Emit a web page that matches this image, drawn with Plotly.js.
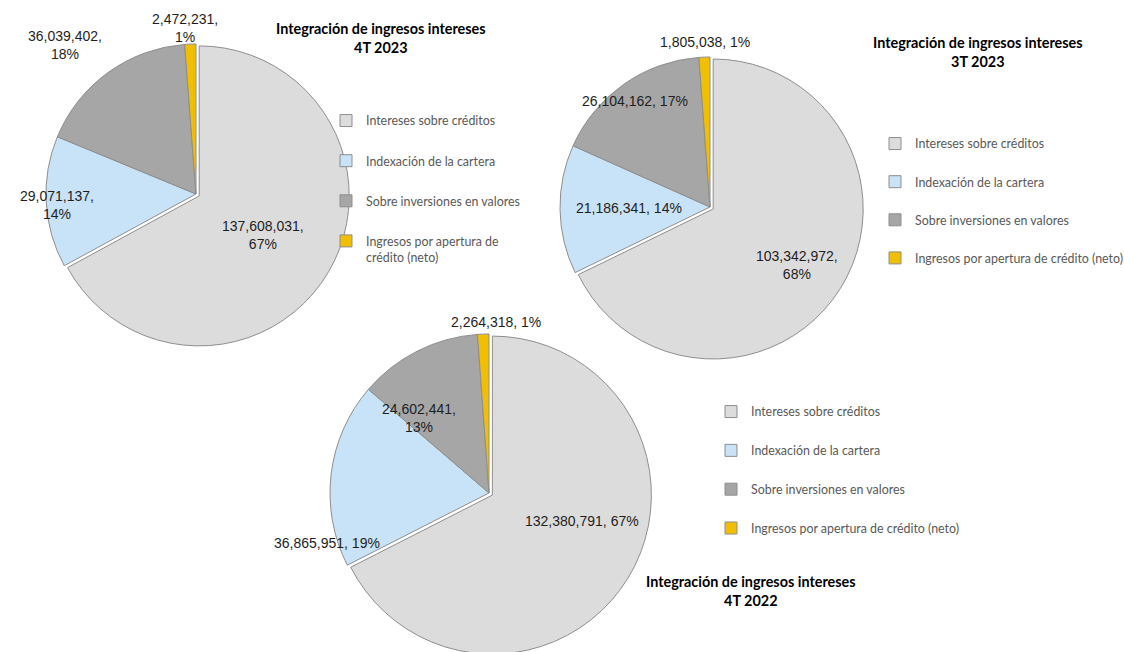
<!DOCTYPE html>
<html>
<head>
<meta charset="utf-8">
<script src="https://cdn.plot.ly/plotly-3.0.1.min.js"></script>
<style>
html,body{margin:0;padding:0;background:#fff;overflow:hidden}
#wrap{width:1124px;height:652px;overflow:hidden}
#chart{width:1160px;height:672px}
</style>
</head>
<body>
<div id="wrap"><div id="chart"></div></div>
<script>
// ---------- DATA ----------
const categories = ['Intereses sobre créditos', 'Indexación de la cartera', 'Sobre inversiones en valores', 'Ingresos por apertura de crédito (neto)'];
const categoriesWrapped = ['Intereses sobre créditos', 'Indexación de la cartera', 'Sobre inversiones en valores', 'Ingresos por apertura de<br>crédito (neto)'];
const values4T2023 = [137608031, 29071137, 36039402, 2472231];
const pct4T2023 = [67, 14, 18, 1];
const values3T2023 = [103342972, 21186341, 26104162, 1805038];
const pct3T2023 = [68, 14, 17, 1];
const values4T2022 = [132380791, 36865951, 24602441, 2264318];
const pct4T2022 = [67, 19, 13, 1];
const titleMain = 'Integración de ingresos intereses';
const periods = ['4T 2023', '3T 2023', '4T 2022'];

// ---------- STYLE / LAYOUT ----------
// the figure is a little larger than the visible 1124x652 window so that
// the right-hand legend and the bottom pie are not squeezed by auto-margins
const W = 1160, H = 672;
const sliceColors = ['#dcdcdc', '#c8e2f7', '#a6a6a6', '#f2bf00'];
const PULL = 0.025;
const fx = x => x / W;
const fy = y => 1 - y / H;
function dom(cx, cy, r) {
  const h = r * (1 + PULL);
  return {x: [fx(cx - h), fx(cx + h)], y: [fy(cy + h), fy(cy - h)]};
}
const labelFont = {family: 'Liberation Sans, Arial, sans-serif', size: 14, color: '#1e1e1e'};
const titleFont = {family: 'Lato, Roboto, sans-serif', size: 14.4, color: '#000', weight: 700};
const legendFont = {family: 'Lato, Roboto, sans-serif', size: 12.4, color: '#595959'};

const fmt = v => v.toLocaleString('en-US');
// invisible suffix keeps each pie's legend entries distinct
const uniq = (labels, k) => labels.map(l => l + '\u200b'.repeat(k));

function pieTrace(labels, values, domain, legendId) {
  return {
    type: 'pie', labels: labels, values: values, sort: false, direction: 'clockwise', rotation: 0,
    domain: domain, pull: [PULL, 0, 0, 0], textinfo: 'none', hoverinfo: 'label+value+percent',
    marker: {colors: sliceColors, line: {color: '#8e8e8e', width: 1}},
    legend: legendId, showlegend: true
  };
}
function padTrace(legendId) {
  return {type: 'scatter', x: [null], y: [null], mode: 'markers', name: ' ', legendgroup: 'pad_' + legendId,
    legend: legendId, showlegend: true, marker: {opacity: 0, size: 0.1, color: 'rgba(0,0,0,0)'}, hoverinfo: 'skip'};
}

const data = [
  pieTrace(uniq(categoriesWrapped, 0), values4T2023, dom(196, 194, 150), 'legend'),
  pieTrace(uniq(categories, 1), values3T2023, dom(710, 207, 150), 'legend2'),
  pieTrace(uniq(categories, 2), values4T2022, dom(489, 493, 159), 'legend3'),
  padTrace('legend'), padTrace('legend2'), padTrace('legend3')
];

// label placements: [x, y, sep] for each slice of each pie
const labelPlace = [
  [[263, 235, ',<br>'], [57, 205, ',<br>'], [65, 45, ',<br>'], [185, 28, ',<br>']],
  [[797, 265, ',<br>'], [629, 208, ', '], [635, 101, ', '], [705, 42, ', ']],
  [[582, 521, ', '], [327, 543, ', '], [419, 418, ',<br>'], [496, 322, ', ']]
];
const allValues = [values4T2023, values3T2023, values4T2022];
const allPct = [pct4T2023, pct3T2023, pct4T2022];

const annotations = [];
allValues.forEach((vals, p) => {
  vals.forEach((v, i) => {
    const pl = labelPlace[p][i];
    annotations.push({xref: 'paper', yref: 'paper', x: fx(pl[0]), y: fy(pl[1]), xanchor: 'center', yanchor: 'middle',
      text: fmt(v) + pl[2] + allPct[p][i] + '%', showarrow: false, font: labelFont, align: 'center'});
  });
});
const titlePlace = [[381, 38], [978, 52], [751, 591]];
periods.forEach((per, p) => {
  annotations.push({xref: 'paper', yref: 'paper', x: fx(titlePlace[p][0]), y: fy(titlePlace[p][1]), xanchor: 'center', yanchor: 'middle',
    text: titleMain + '<br>' + per, showarrow: false, font: titleFont, align: 'center'});
});

function legendCfg(textX, firstY, gap) {
  return {x: fx(textX - 40), y: fy(firstY - 14), xanchor: 'left', yanchor: 'top', orientation: 'v',
    traceorder: 'grouped', tracegroupgap: gap, valign: 'top', bgcolor: 'rgba(0,0,0,0)', font: legendFont};
}

const layout = {
  width: W, height: H, margin: {l: 0, r: 0, t: 0, b: 0},
  paper_bgcolor: '#fff', plot_bgcolor: '#fff',
  xaxis: {visible: false}, yaxis: {visible: false},
  legend: legendCfg(366, 120, 21),
  legend2: legendCfg(915, 143, 19),
  legend3: legendCfg(751, 411, 19.7),
  annotations: annotations
};

Plotly.newPlot('chart', data, layout, {displayModeBar: false, staticPlot: true});
</script>
</body>
</html>
